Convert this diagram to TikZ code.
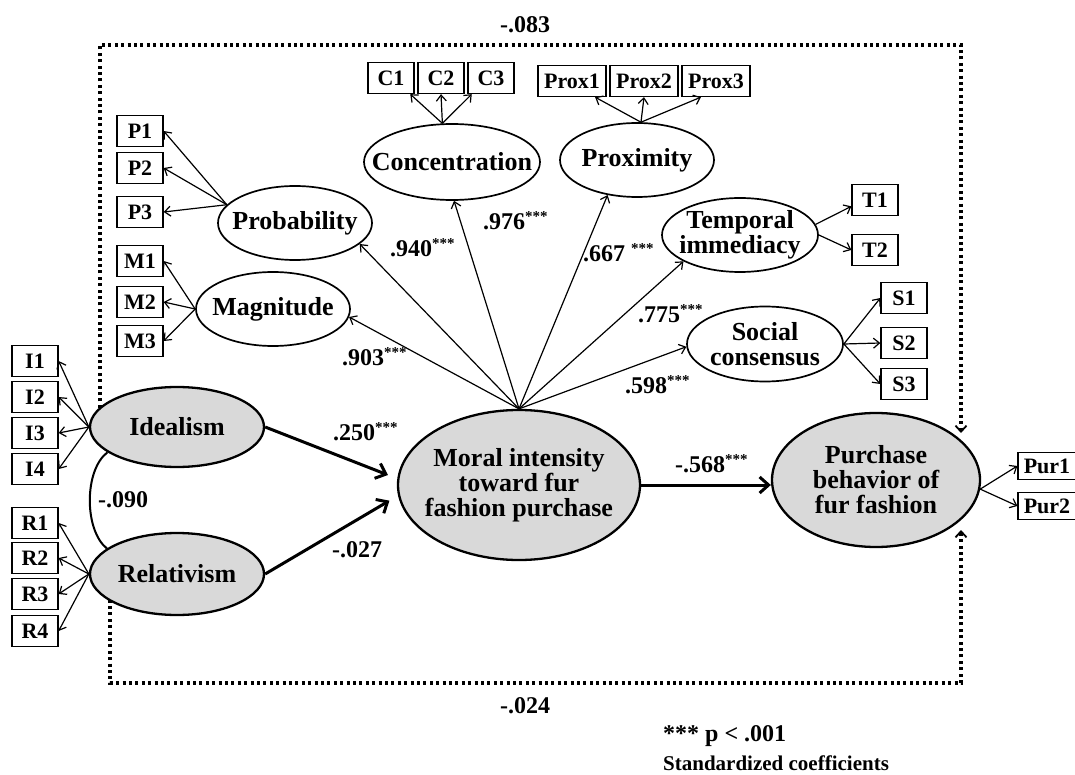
\documentclass[tikz,border=0pt]{standalone}
\usepackage{fontspec}
\setmainfont{Liberation Serif}
\usetikzlibrary{arrows.meta,shapes.geometric}
\definecolor{latfill}{HTML}{D9D9D9}
% raised significance stars after a coefficient
\newcommand\sigstars{\raisebox{8pt}{\fontsize{15}{15}\selectfont ***}}
\begin{document}
\begin{tikzpicture}[x=1pt,y=-1pt,
  lat/.style={ellipse, draw, line width=1.7pt, inner sep=0pt},
  core/.style={lat, fill=latfill, line width=2.3pt},
  ltext/.style={font=\fontsize{26}{25}\selectfont\bfseries, align=center, inner sep=0pt},
  ind/.style={draw, line width=1.3pt, minimum width=46pt, minimum height=31pt, inner sep=0pt,
              font=\fontsize{22}{22}\selectfont\bfseries},
  load/.style={line width=1.2pt, -{Straight Barb[length=6pt,width=10pt,line width=1.2pt]}},
  main/.style={line width=3pt, -{Straight Barb[length=9pt,width=16pt,line width=3pt]}},
  coef/.style={font=\fontsize{24}{24}\selectfont\bfseries, inner sep=0pt, anchor=base west},
  dots/.style={line width=3.2pt, dash pattern=on 3pt off 3.4pt},
  dtip/.style={-{Straight Barb[length=6pt,width=11pt,line width=1.8pt]}}
]
\useasboundingbox (0,0) rectangle (1075,775);

% corners of the two dotted direct paths
\coordinate (tl) at (100,45);
\coordinate (tr) at (961,45);
\coordinate (bl) at (110,683);
\coordinate (br) at (961,683);

% direct effects (dotted), drawn first so the filled ellipses cover their starts
\draw[dots, dtip, shorten >=47pt] (tl |- 0,427) -- (tl) -- (tr) -- (tr |- 0,480);
\draw[dots, dtip, shorten >=50pt] (bl |- 0,574) -- (bl) -- (br) -- (br |- 0,480);

% dimensions of moral intensity
\node[lat, minimum width=154pt, minimum height=74pt, label={[ltext]center:Probability}] (prob) at (295,223) {};
\node[lat, minimum width=154pt, minimum height=74pt, label={[ltext]center:Magnitude}] (mag) at (273,309) {};
\node[lat, minimum width=176pt, minimum height=76pt, label={[ltext]center:Concentration}] (conc) at (452,162) {};
\node[lat, minimum width=154pt, minimum height=74pt, label={[ltext]center:Proximity}] (prox) at (637,160) {};
\node[lat, minimum width=156pt, minimum height=74pt, label={[ltext]center:{Temporal\\immediacy}}] (temp) at (740,235) {};
\node[lat, minimum width=156pt, minimum height=75pt, label={[ltext]center:{Social\\consensus}}] (soc) at (765,344) {};

% structural constructs
\node[core, minimum width=174pt, minimum height=80pt, label={[ltext]center:Idealism}] (ideal) at (177,427) {};
\node[core, minimum width=174pt, minimum height=82pt, label={[ltext]center:Relativism}] (relat) at (177,574) {};
\node[core, minimum width=242pt, minimum height=150pt, label={[ltext]center:{Moral intensity\\toward fur\\fashion purchase}}] (moral) at (519,485) {};
\node[core, minimum width=208pt, minimum height=134pt, label={[ltext]center:{Purchase\\behavior of\\fur fashion}}] (pur) at (876,480) {};

% indicators
\node[ind] (p1) at (140,131) {P1};
\node[ind] (p2) at (140,168) {P2};
\node[ind] (p3) at (140,212) {P3};
\node[ind] (m1) at (140,261) {M1};
\node[ind] (m2) at (140,302) {M2};
\node[ind] (m3) at (140,341) {M3};
\node[ind] (i1) at (35,361) {I1};
\node[ind] (i2) at (35,397) {I2};
\node[ind] (i3) at (35,433) {I3};
\node[ind] (i4) at (35,469) {I4};
\node[ind] (r1) at (35,523) {R1};
\node[ind] (r2) at (35,558) {R2};
\node[ind] (r3) at (35,594) {R3};
\node[ind] (r4) at (35,631) {R4};
\node[ind] (c1) at (391,78) {C1};
\node[ind] (c2) at (441,78) {C2};
\node[ind] (c3) at (491,78) {C3};
\node[ind, minimum width=68pt] (x1) at (572,81) {Prox1};
\node[ind, minimum width=68pt] (x2) at (644,81) {Prox2};
\node[ind, minimum width=68pt] (x3) at (716,81) {Prox3};
\node[ind] (t1) at (875,200) {T1};
\node[ind] (t2) at (875,250) {T2};
\node[ind] (s1) at (904,298) {S1};
\node[ind] (s2) at (904,343) {S2};
\node[ind] (s3) at (904,384) {S3};
\node[ind, minimum width=58pt, minimum height=27pt] (u1) at (1047,466) {Pur1};
\node[ind, minimum width=58pt, minimum height=27pt] (u2) at (1047,506) {Pur2};

% measurement loadings
\foreach \b in {p1,p2,p3} \draw[load] (prob.165) -- (\b.east);
\foreach \b in {m1,m2,m3} \draw[load] (mag.west) -- (\b.east);
\foreach \b in {i1,i2,i3,i4} \draw[load] (ideal.west) -- (\b.east);
\foreach \b in {r1,r2,r3,r4} \draw[load] (relat.west) -- (\b.east);
\draw[load] (conc.104) -- (c1.-40);
\draw[load] (conc.104) -- (c2.south);
\draw[load] (conc.104) -- (c3.-140);
\draw[load] (prox.84) -- (x1.-35);
\draw[load] (prox.84) -- (x2.south);
\draw[load] (prox.84) -- (x3.-133);
\draw[load] (temp.8) -- (t1.-165);
\draw[load] (temp.east) -- (t2.west);
\foreach \b in {s1,s2,s3} \draw[load] (soc.east) -- (\b.west);
\draw[load] (pur.-5) -- (u1.west);
\draw[load] (pur.-5) -- (u2.west);

% second-order loadings
\draw[load] (moral.north) -- (prob.-18);
\draw[load] (moral.north) -- (mag.-6);
\draw[load] (moral.north) -- (conc.-87);
\draw[load] (moral.north) -- (prox.-130);
\draw[load] (moral.north) -- (temp.-155);
\draw[load] (moral.north) -- (soc.182);

% structural paths
\draw[main, shorten >=10pt] (ideal.east) -- (moral.177);
\draw[main, shorten >=10pt] (relat.east) -- (moral.-175);
\draw[main] (moral.east) -- (moral.east -| pur.west);

% correlation between idealism and relativism
\draw[line width=2pt] (ideal.200) .. controls (84,470) and (84,530) .. (relat.160);

% coefficients
\node[coef] at (390,257) {.940\sigstars};
\node[coef] at (483,230) {.976\sigstars};
\node[coef] at (583,262) {.667 \sigstars};
\node[coef] at (638,323) {.775\sigstars};
\node[coef] at (625,393) {.598\sigstars};
\node[coef] at (342,365) {.903\sigstars};
\node[coef] at (333,440) {.250\sigstars};
\node[coef] at (332,557) {-.027};
\node[coef] at (98,507) {-.090};
\node[coef] at (675,472) {-.568\sigstars};
\node[coef] at (500,33) {-.083};
\node[coef] at (500,713) {-.024};

% note
\node[coef] at (663,741) {*** p < .001};
\node[coef, font=\fontsize{21}{21}\selectfont\bfseries] at (663,770) {Standardized coefficients};
\end{tikzpicture}
\end{document}
